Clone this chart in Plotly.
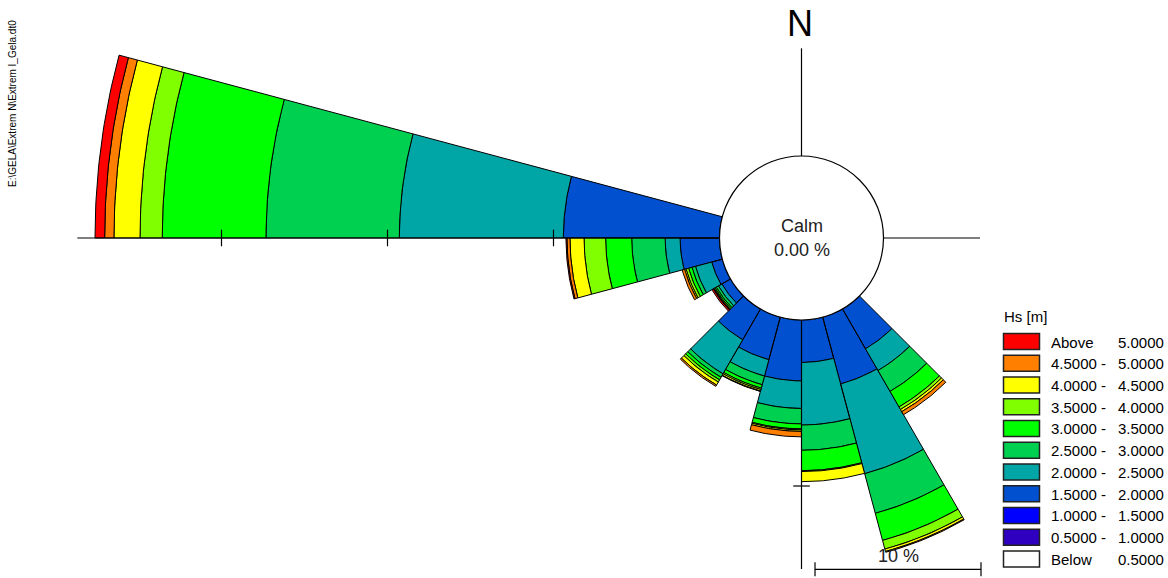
import numpy as np
import plotly.graph_objects as go

# ---------------- data ----------------
# direction bins (compass degrees, start of 15-degree sector)
dir_start = [135, 150, 165, 180, 195, 210, 225, 240, 255, 270]
dir_width = 15

# percentage of occurrence per Hs class, one value per direction bin
pct_below_0_5 = [0, 0, 0, 0, 0, 0, 0, 0, 0, 0]
pct_0_5_1_0 = [0, 0, 0, 0, 0, 0, 0, 0, 0, 0]
pct_1_0_1_5 = [0, 0, 0, 0, 0, 0, 0, 0, 0, 0]
pct_1_5_2_0 = [2.77, 4.16, 2.56, 3.67, 2.65, 2.14, 0.60, 0.66, 2.38, 9.41]
pct_2_0_2_5 = [1.51, 5.60, 3.77, 1.66, 1.02, 2.37, 0.24, 1.01, 0.90, 9.88]
pct_2_5_3_0 = [1.45, 2.47, 1.52, 0.93, 0.54, 0.24, 0.15, 0.22, 2.01, 8.03]
pct_3_0_3_5 = [1.08, 1.69, 1.23, 0.30, 0.21, 0.18, 0.09, 0.21, 1.57, 6.25]
pct_3_5_4_0 = [0.18, 0.54, 0.05, 0.06, 0.09, 0.15, 0.06, 0.16, 1.30, 1.34]
pct_4_0_4_5 = [0.15, 0.15, 0.61, 0.09, 0.09, 0.21, 0.03, 0.09, 0.85, 1.57]
pct_4_5_5_0 = [0.21, 0.05, 0.00, 0.33, 0.03, 0.09, 0.03, 0.15, 0.18, 0.56]
pct_above_5 = [0.00, 0.00, 0.00, 0.00, 0.00, 0.00, 0.09, 0.00, 0.06, 0.58]

calm_pct = 0.00

# Hs classes from innermost to outermost
class_series = [pct_below_0_5, pct_0_5_1_0, pct_1_0_1_5, pct_1_5_2_0, pct_2_0_2_5,
                pct_2_5_3_0, pct_3_0_3_5, pct_3_5_4_0, pct_4_0_4_5, pct_4_5_5_0, pct_above_5]
class_colors = ["#FFFFFF", "#3000C0", "#0000FF", "#0050D0", "#00A6A6",
                "#00D050", "#00FF00", "#80FF00", "#FFFF00", "#FF8000", "#FF0000"]

# legend labels (top to bottom)
legend_left = ["Above", "4.5000 -", "4.0000 -", "3.5000 -", "3.0000 -", "2.5000 -",
               "2.0000 -", "1.5000 -", "1.0000 -", "0.5000 -", "Below"]
legend_right = ["5.0000", "5.0000", "4.5000", "4.0000", "3.5000", "3.0000",
                "2.5000", "2.0000", "1.5000", "1.0000", "0.5000"]
legend_title = "Hs [m]"
file_label = "E:\\GELA\\Extrem N\\Extrem I_Gela.dt0"
scale_ticks_pct = [10, 20, 30]
scale_bar_pct = 10

# ---------------- layout constants ----------------
W, H = 1168, 578
CX, CY = 801.5, 238.0       # rose centre in pixels
PPU = 16.6                  # pixels per percent
R0 = 82 / PPU               # calm circle radius (in percent units)

xr = [-CX / PPU, (W - CX) / PPU]
yr = [-(H - CY) / PPU, CY / PPU]


def px(x):
    return x / W


def py(y):
    return 1 - y / H


def wedge(d0, d1, r_in, r_out, n=30):
    a = np.radians(np.linspace(d0, d1, n))
    b = a[::-1]
    xs = np.concatenate([r_out * np.sin(a), r_in * np.sin(b), [r_out * np.sin(a[0])]])
    ys = np.concatenate([r_out * np.cos(a), r_in * np.cos(b), [r_out * np.cos(a[0])]])
    return list(xs), list(ys)


fig = go.Figure()

cum = np.zeros(len(dir_start))
for series, color in zip(class_series, class_colors):
    vals = np.array(series, dtype=float)
    X, Y = [], []
    for i, d0 in enumerate(dir_start):
        if vals[i] <= 0:
            continue
        xs, ys = wedge(d0, d0 + dir_width, R0 + cum[i], R0 + cum[i] + vals[i])
        X += xs + [None]
        Y += ys + [None]
    cum = cum + vals
    if X:
        fig.add_trace(go.Scatter(x=X, y=Y, mode="lines", fill="toself", fillcolor=color,
                                 line=dict(color="black", width=1), hoverinfo="skip",
                                 showlegend=False))

shapes = []
line_style = dict(color="black", width=1.2)
# compass axes
left_end = -(CX - 77.3) / PPU
right_end = (980 - CX) / PPU
top_end = (CY - 48.3) / PPU
bottom_end = -(569 - CY) / PPU
for (x0, y0, x1, y1) in [(-R0, 0, left_end, 0), (R0, 0, right_end, 0),
                         (0, R0, 0, top_end), (0, -R0, 0, bottom_end)]:
    shapes.append(dict(type="line", xref="x", yref="y", x0=x0, y0=y0, x1=x1, y1=y1,
                       line=line_style, layer="above"))
# ticks on west axis
for t in scale_ticks_pct:
    shapes.append(dict(type="line", xref="x", yref="y", x0=-(R0 + t), x1=-(R0 + t),
                       y0=-0.5, y1=0.5, line=line_style, layer="above"))
# tick on south axis
shapes.append(dict(type="line", xref="x", yref="y", x0=-0.5, x1=0.5,
                   y0=-(R0 + scale_ticks_pct[0]), y1=-(R0 + scale_ticks_pct[0]),
                   line=line_style, layer="above"))
# calm circle
shapes.append(dict(type="circle", xref="x", yref="y", x0=-R0, x1=R0, y0=-R0, y1=R0,
                   fillcolor="white", line=dict(color="black", width=1.2), layer="above"))
# scale bar
sb_x0 = (815 - CX) / PPU
sb_y = -(569.3 - CY) / PPU
shapes.append(dict(type="line", xref="x", yref="y", x0=sb_x0, x1=sb_x0 + scale_bar_pct,
                   y0=sb_y, y1=sb_y, line=line_style, layer="above"))
for xx in [sb_x0, sb_x0 + scale_bar_pct]:
    shapes.append(dict(type="line", xref="x", yref="y", x0=xx, x1=xx,
                       y0=sb_y - 0.42, y1=sb_y + 0.42, line=line_style, layer="above"))

annotations = []
font_main = "Liberation Sans, Arial, sans-serif"


def ann(text, x, y, size, color="black", xanchor="center", **kw):
    annotations.append(dict(text=text, x=px(x), y=py(y), xref="paper", yref="paper",
                            xanchor=xanchor, yanchor="middle", showarrow=False,
                            font=dict(family=font_main, size=size, color=color), **kw))


ann("N", 799.5, 24, 36)
ann("Calm", CX, 226.5, 18, "#222")
ann(f"{calm_pct:.2f} %", CX, 250, 18, "#222")
ann(f"{scale_bar_pct} %", 898, 556, 18, "#222")
ann(file_label, 13, 104, 10, textangle=-90)

# legend
ann(legend_title, 1002, 316, 15, xanchor="left")
legend_colors = class_colors[::-1]
for i, (lt, rt, col) in enumerate(zip(legend_left, legend_right, legend_colors)):
    top = 333.5 + 21.74 * i
    shapes.append(dict(type="rect", xref="paper", yref="paper",
                       x0=px(1003.5), x1=px(1039.5), y0=py(top), y1=py(top + 16),
                       fillcolor=col, line=dict(color="#222", width=1.5)))
    ann(lt, 1049, top + 8.5, 15, xanchor="left")
    ann(rt, 1166, top + 8.5, 15, xanchor="right")

fig.update_layout(
    width=W, height=H,
    margin=dict(l=0, r=0, t=0, b=0),
    paper_bgcolor="white", plot_bgcolor="white",
    xaxis=dict(range=xr, visible=False, fixedrange=True),
    yaxis=dict(range=yr, visible=False, fixedrange=True),
    shapes=shapes, annotations=annotations,
    showlegend=False,
)

fig.write_html("out.html", config={"displayModeBar": False},
               post_script="document.body.style.margin='0';document.body.style.overflow='hidden';")
